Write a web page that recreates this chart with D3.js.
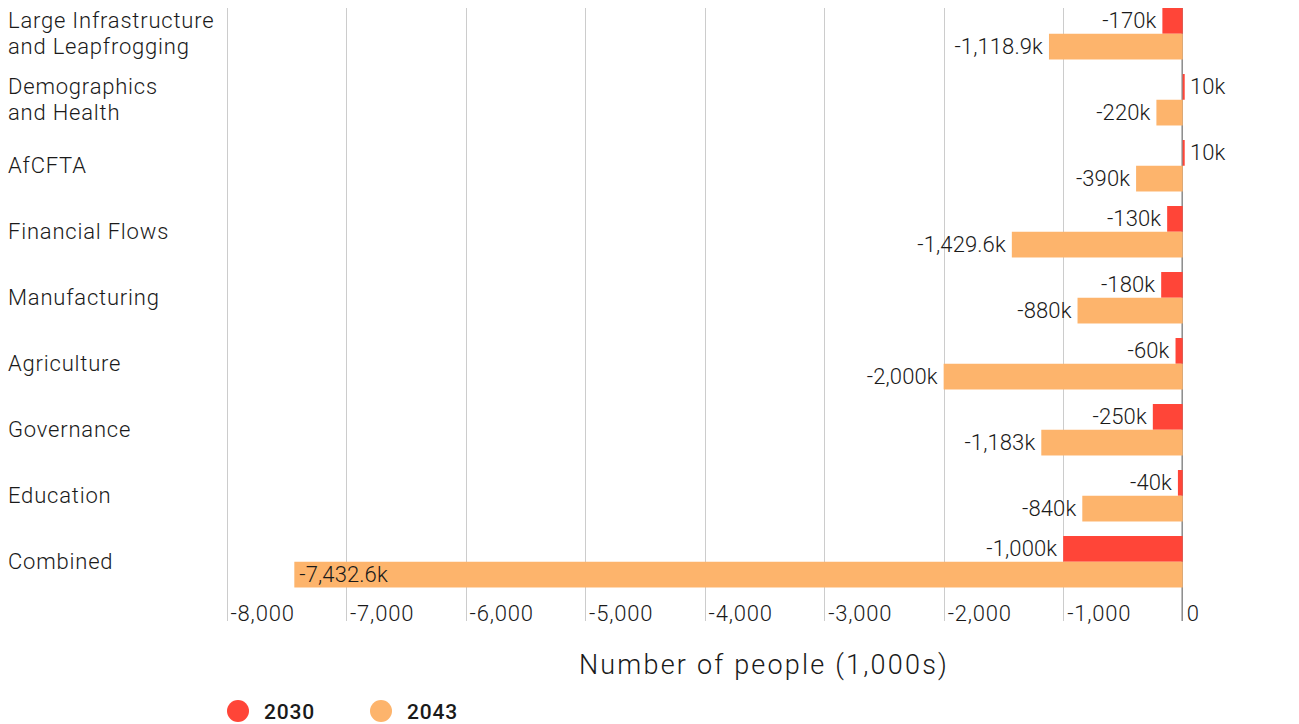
<!DOCTYPE html>
<html>
<head>
<meta charset="utf-8">
<script src="https://cdn.jsdelivr.net/npm/d3@7"></script>
<style>
  html, body { margin: 0; padding: 0; background: #fff; }
  svg { display: block; font-family: Roboto, "Helvetica Neue", Arial, sans-serif; }
</style>
</head>
<body>
<svg id="chart" width="1299" height="724"></svg>
<script>
const categories = [
  ["Large Infrastructure", "and Leapfrogging"],
  ["Demographics", "and Health"],
  ["AfCFTA"],
  ["Financial Flows"],
  ["Manufacturing"],
  ["Agriculture"],
  ["Governance"],
  ["Education"],
  ["Combined"]
];
const series = ["2030", "2043"];
const values2030 = [-170, 10, 10, -130, -180, -60, -250, -40, -1000];
const values2043 = [-1118.9, -220, -390, -1429.6, -880, -2000, -1183, -840, -7432.6];
const xTicks = [-8000, -7000, -6000, -5000, -4000, -3000, -2000, -1000, 0];
const axisTitle = "Number of people (1,000s)";
const colors = ["#ff4538", "#fdb46c"];

const locale = d3.formatLocale({decimal: ".", thousands: ",", grouping: [3], currency: ["$", ""], minus: "-"});
const fmtTick = locale.format(",");
const fmtVal = v => locale.format(",")(v) + "k";

const svg = d3.select("#chart");
const x = d3.scaleLinear().domain([-8000, 0]).range([226.5, 1182.7]);
const y0 = d3.scaleBand().domain(d3.range(categories.length)).range([0.75, 594.75]).paddingInner(0.22).paddingOuter(0.11);
const y1 = d3.scaleBand().domain(series).range([0, y0.bandwidth()]);

const gridTop = 8, gridBottom = 621;
const FW = 300, TXT = "#1a1a1a";

// gridlines
svg.append("g").selectAll("line").data(xTicks).join("line")
  .attr("x1", d => d === 0 ? x(d) - 0.5 : Math.round(x(d)) + 0.5)
  .attr("x2", d => d === 0 ? x(d) - 0.5 : Math.round(x(d)) + 0.5)
  .attr("y1", gridTop).attr("y2", gridBottom)
  .attr("stroke", d => d === 0 ? "#8a8a8a" : "#cccccc")
  .attr("stroke-width", d => d === 0 ? 1.5 : 1);

// tick labels
svg.append("g").selectAll("text").data(xTicks).join("text")
  .attr("x", d => x(d) + 4).attr("y", 613)
  .attr("dominant-baseline", "central")
  .attr("font-size", 22).attr("font-weight", FW).attr("letter-spacing", 0.8).attr("fill", TXT)
  .text(fmtTick);

// bars
const rows = categories.map((c, i) => ({i, vals: [values2030[i], values2043[i]]}));
const groups = svg.append("g").selectAll("g").data(rows).join("g")
  .attr("transform", d => `translate(0,${y0(d.i)})`);

groups.selectAll("rect").data(d => d.vals.map((v, k) => ({v, s: series[k], k}))).join("rect")
  .attr("x", d => x(Math.min(0, d.v)))
  .attr("width", d => Math.max(Math.abs(x(d.v) - x(0)), 2))
  .attr("y", d => y1(d.s)).attr("height", y1.bandwidth())
  .attr("fill", d => colors[d.k]);

groups.selectAll("text.val").data(d => d.vals.map((v, k) => ({v, s: series[k], k}))).join("text")
  .attr("class", "val")
  .each(function(d) {
    const t = d3.select(this);
    const inside = d.v < 0 && x(d.v) - 120 < x(-8000);
    let xp, anchor;
    if (d.v >= 0) { xp = x(d.v) + 6; anchor = "start"; }
    else if (inside) { xp = x(d.v) + 5; anchor = "start"; }
    else { xp = x(d.v) - 6; anchor = "end"; }
    t.attr("x", xp).attr("text-anchor", anchor);
  })
  .attr("y", d => y1(d.s) + y1.bandwidth() / 2)
  .attr("dominant-baseline", "central")
  .attr("font-size", 22).attr("font-weight", FW).attr("letter-spacing", 0.1).attr("fill", TXT)
  .text(d => fmtVal(d.v));

// category labels
const catG = svg.append("g").selectAll("text").data(rows).join("text")
  .attr("x", 8)
  .attr("font-size", 22).attr("font-weight", FW).attr("letter-spacing", 0.8).attr("fill", TXT);
catG.each(function(d) {
  const lines = categories[d.i];
  const cy = y0(d.i) + y0.bandwidth() / 2;
  const lh = 26;
  const start = cy - (lines.length - 1) * lh / 2;
  d3.select(this).selectAll("tspan").data(lines).join("tspan")
    .attr("x", 8).attr("y", (l, j) => start + j * lh)
    .attr("dominant-baseline", "central")
    .text(l => l);
});

// axis title
svg.append("text")
  .attr("x", 764).attr("y", 665)
  .attr("text-anchor", "middle").attr("dominant-baseline", "central")
  .attr("font-size", 27).attr("font-weight", FW).attr("letter-spacing", 2.2).attr("fill", TXT)
  .text(axisTitle);

// legend
const legendX = [238, 381];
const leg = svg.append("g").selectAll("g").data(series).join("g")
  .attr("transform", (d, i) => `translate(${legendX[i]},711)`);
leg.append("circle").attr("r", 11).attr("fill", (d, i) => colors[i]);
leg.append("text").attr("x", 26).attr("y", 1)
  .attr("dominant-baseline", "central")
  .attr("font-size", 21).attr("font-weight", 500).attr("letter-spacing", 0.8).attr("fill", TXT)
  .text(d => d);
</script>
</body>
</html>
